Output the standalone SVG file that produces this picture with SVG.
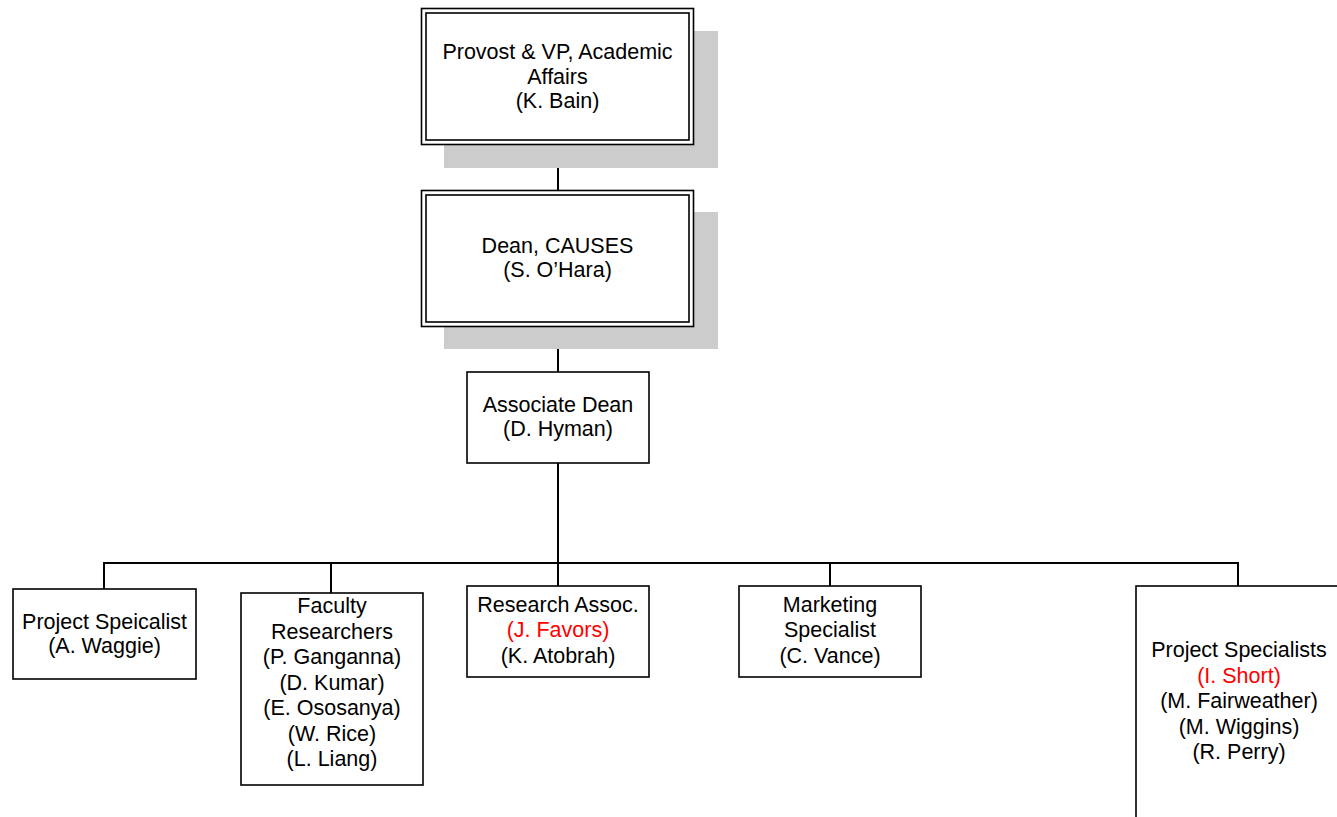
<svg xmlns="http://www.w3.org/2000/svg" width="1337" height="817" viewBox="0 0 1337 817">
<style>
text{font-family:"Liberation Sans",Arial,sans-serif;font-size:21.5px;fill:#000;text-anchor:middle}
.red{fill:#ff0000}
.box{fill:#fff;stroke:#000;stroke-width:1.6}
.shadow{fill:#cccccc}
.conn{stroke:#000;stroke-width:2;fill:none}
</style>
<rect width="1337" height="817" fill="#fff"/>
<g id="connectors">
<line class="conn" x1="558" y1="145" x2="558" y2="190"/>
<line class="conn" x1="558" y1="327" x2="558" y2="372"/>
<line class="conn" x1="558" y1="463" x2="558" y2="563"/>
<polyline class="conn" points="104,589 104,563 1238,563 1238,586"/>
<line class="conn" x1="331" y1="563" x2="331" y2="593"/>
<line class="conn" x1="558" y1="563" x2="558" y2="586"/>
<line class="conn" x1="830" y1="563" x2="830" y2="586"/>
</g>
<g id="provost">
<rect class="shadow" x="444" y="31" width="274" height="137"/>
<rect class="box" x="421.5" y="8.5" width="272" height="136"/>
<rect class="box" x="426" y="13" width="263" height="127"/>
<text x="557.5" y="59">Provost &amp; VP, Academic</text>
<text x="557.5" y="84">Affairs</text>
<text x="557.5" y="108">(K. Bain)</text>
</g>
<g id="dean">
<rect class="shadow" x="444" y="212" width="274" height="137"/>
<rect class="box" x="421.5" y="190.5" width="272" height="136"/>
<rect class="box" x="426" y="195" width="263" height="127"/>
<text x="557.5" y="253">Dean, CAUSES</text>
<text x="557.5" y="277">(S. O’Hara)</text>
</g>
<g id="assocdean">
<rect class="box" x="467" y="372" width="182" height="91"/>
<text x="558" y="412">Associate Dean</text>
<text x="558" y="436">(D. Hyman)</text>
</g>
<g id="waggie">
<rect class="box" x="13" y="589" width="183" height="90"/>
<text x="104.5" y="629">Project Speicalist</text>
<text x="104.5" y="653">(A. Waggie)</text>
</g>
<g id="faculty">
<rect class="box" x="241" y="593" width="182" height="192"/>
<text x="332" y="613">Faculty</text>
<text x="332" y="638.5">Researchers</text>
<text x="332" y="664">(P. Ganganna)</text>
<text x="332" y="689.5">(D. Kumar)</text>
<text x="332" y="715">(E. Ososanya)</text>
<text x="332" y="740.5">(W. Rice)</text>
<text x="332" y="766">(L. Liang)</text>
</g>
<g id="research">
<rect class="box" x="467" y="586" width="182" height="91"/>
<text x="558" y="612">Research Assoc.</text>
<text x="558" y="637" class="red">(J. Favors)</text>
<text x="558" y="663">(K. Atobrah)</text>
</g>
<g id="marketing">
<rect class="box" x="739" y="586" width="182" height="91"/>
<text x="830" y="612">Marketing</text>
<text x="830" y="637">Specialist</text>
<text x="830" y="663">(C. Vance)</text>
</g>
<g id="projspecs">
<rect class="box" x="1136" y="586" width="210" height="250"/>
<text x="1239" y="657">Project Specialists</text>
<text x="1239" y="683" class="red">(I. Short)</text>
<text x="1239" y="708">(M. Fairweather)</text>
<text x="1239" y="734">(M. Wiggins)</text>
<text x="1239" y="759">(R. Perry)</text>
</g>
</svg>
